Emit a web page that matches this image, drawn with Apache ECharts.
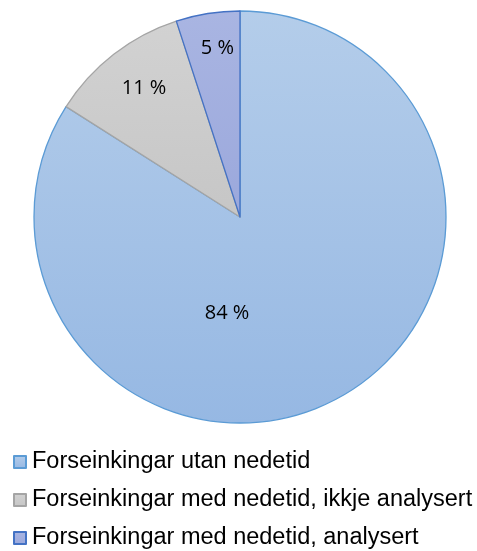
<!DOCTYPE html>
<html>
<head>
<meta charset="utf-8">
<script src="https://cdn.jsdelivr.net/npm/echarts@6/dist/echarts.min.js"></script>
<style>html,body{margin:0;padding:0;background:#fff}#c{width:477px;height:551px}</style>
</head>
<body>
<div id="c"></div>
<script>
const categories = ['Forseinkingar utan nedetid', 'Forseinkingar med nedetid, ikkje analysert', 'Forseinkingar med nedetid, analysert'];
const values = [84, 11, 5];
const labels = ['84 %', '11 %', '5 %'];

const fills = [
  ['#b4cdea', '#96b8e3'],
  ['#d2d2d2', '#c6c6c6'],
  ['#a9b5e2', '#9ba8dc']
];
const borders = ['#5b9bd5', '#a5a5a5', '#4472c4'];
const labelShift = [[-64, 3], [-31, -45], [-6, -64]];

const chart = echarts.init(document.getElementById('c'), null, {renderer: 'canvas'});
chart.setOption({
  animation: false,
  legend: {
    orient: 'vertical',
    left: 13,
    top: 450,
    height: 130,
    padding: 0,
    itemWidth: 12,
    itemHeight: 12,
    itemGap: 14,
    icon: 'rect',
    textStyle: {fontFamily: 'Liberation Sans, Arial', fontSize: 23.5, color: '#000', padding: [0, 0, 0, 1]},
    data: categories
  },
  series: [{
    type: 'pie',
    center: [240, 217],
    radius: 206,
    startAngle: 90,
    clockwise: true,
    avoidLabelOverlap: false,
    label: {
      show: true,
      position: 'inside',
      fontFamily: 'Open Sans, sans-serif',
      fontWeight: 'normal',
      fontSize: 20,
      color: '#000',
      formatter: p => labels[p.dataIndex]
    },
    labelLayout: p => ({dx: labelShift[p.dataIndex][0], dy: labelShift[p.dataIndex][1]}),
    emphasis: {disabled: true},
    data: categories.map((n, i) => ({
      name: n,
      value: values[i],
      itemStyle: {
        color: new echarts.graphic.LinearGradient(0, 0, 0, 1, [
          {offset: 0, color: fills[i][0]}, {offset: 1, color: fills[i][1]}
        ]),
        borderColor: borders[i],
        borderWidth: 1.3
      }
    }))
  }]
});
</script>
</body>
</html>
